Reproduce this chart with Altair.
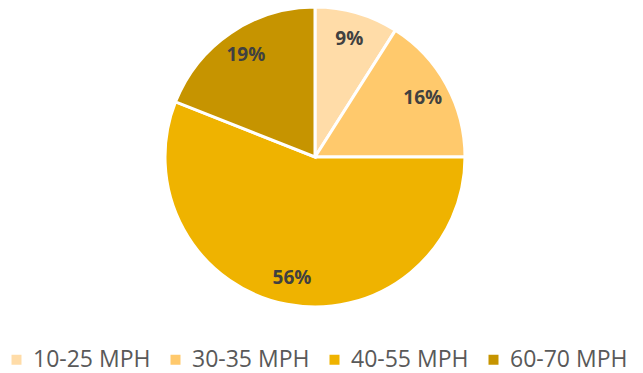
import altair as alt
import pandas as pd

categories = ["10-25 MPH", "30-35 MPH", "40-55 MPH", "60-70 MPH"]
values = [9, 16, 56, 19]
labels = ["9%", "16%", "56%", "19%"]
colors = ["#FFDCA8", "#FFC96C", "#EFB300", "#C69400"]

df = pd.DataFrame({"cat": categories, "val": values, "lab": labels, "ord": list(range(len(categories)))})

base = alt.Chart(df).encode(
    theta=alt.Theta("val:Q", stack=True),
    order=alt.Order("ord:Q"),
    x=alt.value(315),
    y=alt.value(157),
)

arcs = base.mark_arc(outerRadius=150, stroke="white", strokeWidth=3).encode(
    color=alt.Color(
        "cat:N",
        scale=alt.Scale(domain=categories, range=colors),
        legend=alt.Legend(
            title=None,
            orient="none",
            legendX=5,
            legendY=348,
            direction="horizontal",
            symbolType="square",
            symbolSize=100,
            symbolStrokeWidth=0,
            labelFontSize=23,
            labelFont="Open Sans",
            labelColor="#595959",
            labelOffset=5,
            columnPadding=13,
            symbolOffset=0,
            labelLimit=300,
        ),
    )
)

text = base.mark_text(radius=123, font="Open Sans", fontSize=19, fontWeight="bold", color="#404040").encode(
    text="lab:N"
)

chart = (arcs + text).properties(
    width=643, height=373, autosize=alt.AutoSizeParams(type="none"), padding=0
).configure_view(stroke=None)

chart.save("out.html", embed_options={"renderer": "svg", "actions": False})
